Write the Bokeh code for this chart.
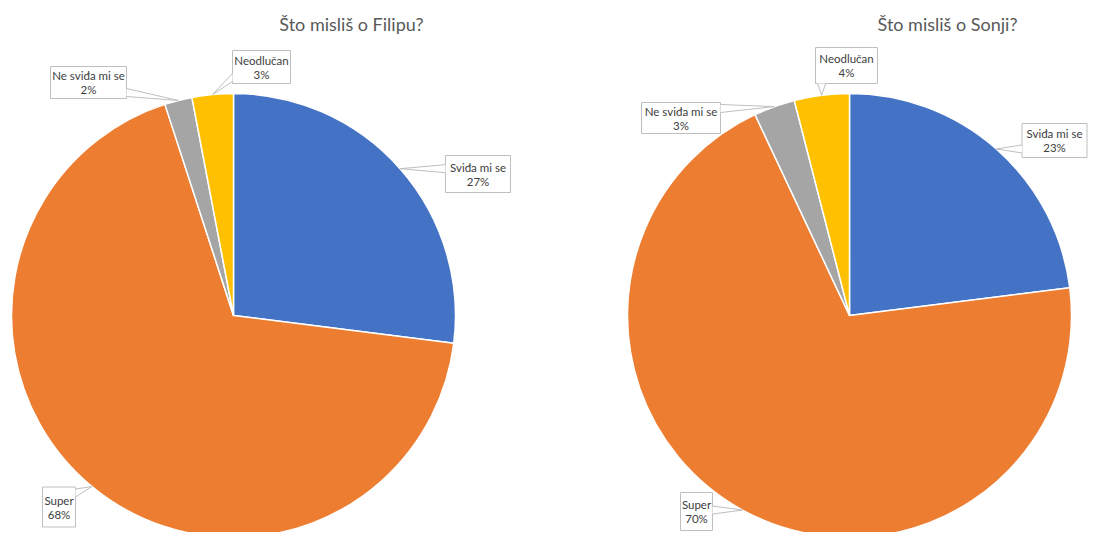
import numpy as np
from bokeh.plotting import figure
from bokeh.models import Range1d, ColumnDataSource
from bokeh.embed import file_html
from bokeh.resources import INLINE
from bokeh.core.properties import value

# ---------------- data ----------------
categories = ["Sviđa mi se", "Super", "Ne sviđa mi se", "Neodlučan"]
filip_pct = [27, 68, 2, 3]
sonja_pct = [23, 70, 3, 4]
titles = ["Što misliš o Filipu?", "Što misliš o Sonji?"]
colors = ["#4472C4", "#ED7D31", "#A5A5A5", "#FFC000"]

# ---------------- layout (screen pixels) ----------------
W, H = 1089, 532
FONT = "Lato"
pies = [
    dict(values=filip_pct, title=titles[0], cx=233, cy=315, r=222, tx=351, ty=23,
         boxes=[(477.5, 173.5, 65, 37), (58.5, 506.5, 33, 40), (88, 82, 76, 32), (261, 66.5, 58, 33)]),
    dict(values=sonja_pct, title=titles[1], cx=849, cy=315, r=222, tx=947, ty=23,
         boxes=[(1054, 140, 65, 34), (696, 511, 32, 38), (680.5, 117.5, 79, 31), (846, 65, 62, 36)]),
]

p = figure(width=W, height=H, output_backend="svg", toolbar_location=None,
           x_range=Range1d(0, W), y_range=Range1d(-H, 0),
           x_axis_location=None, y_axis_location=None, min_border=0)
p.outline_line_color = None
p.grid.visible = False
p.background_fill_color = "white"
p.border_fill_color = "white"

for pie in pies:
    vals = np.array(pie["values"], dtype=float)
    frac = vals / vals.sum()
    cum = np.concatenate([[0], np.cumsum(frac)])
    th_s = cum[:-1] * 2 * np.pi
    th_e = cum[1:] * 2 * np.pi
    th_m = (th_s + th_e) / 2
    cx, cy, r = pie["cx"], -pie["cy"], pie["r"]
    src = ColumnDataSource(dict(start=np.pi / 2 - th_s, end=np.pi / 2 - th_e,
                                color=colors, cat=categories))
    p.wedge(x=cx, y=cy, radius=r, start_angle="start", end_angle="end",
            direction="clock", fill_color="color", line_color="white",
            line_width=1.5, source=src)

    # title
    p.text(x=[pie["tx"]], y=[-pie["ty"]], text=[pie["title"]],
           text_font=value(FONT), text_font_size="18px", text_color="#595959",
           text_align="center", text_baseline="middle")

    # callout labels
    for i, (bx, by, bw, bh) in enumerate(pie["boxes"]):
        tipx = cx + r * np.sin(th_m[i])
        tipy = cy + r * np.cos(th_m[i])
        by_d = -by
        left, right = bx - bw / 2, bx + bw / 2
        top, bot = by_d + bh / 2, by_d - bh / 2
        ox = max(left - tipx, tipx - right, 0)
        oy = max(tipy - top, bot - tipy, 0)
        hw = 4
        if ox >= oy:
            ex = left if tipx < left else right
            ey = min(max(tipy, bot + hw + 2), top - hw - 2)
            base = [(ex, ey - hw), (ex, ey + hw)]
        else:
            ey = top if tipy > top else bot
            ex = min(max(tipx, left + hw + 2), right - hw - 2)
            base = [(ex - hw, ey), (ex + hw, ey)]
        p.rect(x=[bx], y=[by_d], width=bw, height=bh, fill_color="white",
               line_color="#BFBFBF", line_width=1)
        p.patch(x=[base[0][0], tipx, base[1][0]], y=[base[0][1], tipy, base[1][1]],
                fill_color="white", line_color=None)
        p.segment(x0=[base[0][0], base[1][0]], y0=[base[0][1], base[1][1]],
                  x1=[tipx, tipx], y1=[tipy, tipy], line_color="#BFBFBF", line_width=1)
        pct = f"{int(round(frac[i] * 100))}%"
        p.text(x=[bx, bx], y=[by_d + 7, by_d - 7], text=[categories[i], pct],
               text_font=value(FONT), text_font_size="11.5px", text_color="#404040",
               text_align="center", text_baseline="middle")

open("out.html", "w").write(file_html(p, INLINE))
